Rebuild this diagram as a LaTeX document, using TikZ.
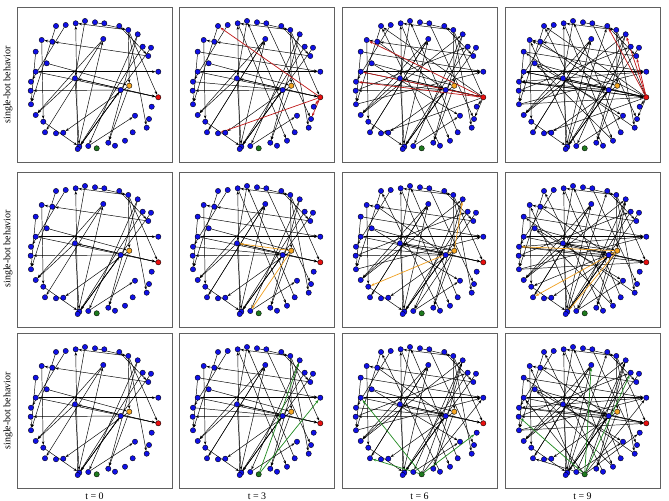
\documentclass[tikz,border=0pt]{standalone}
\usepackage{fontspec}
\setmainfont{Liberation Serif}
\usepackage{xcolor}
\usetikzlibrary{arrows.meta}
\definecolor{vxblue}{HTML}{1010E6}
\definecolor{botred}{HTML}{E81010}
\definecolor{botorange}{HTML}{F5A623}
\definecolor{botgreen}{HTML}{1E7A1E}
\definecolor{redline}{HTML}{C01818}
\definecolor{orangeline}{HTML}{F0A020}
\definecolor{greenline}{HTML}{208A20}
\definecolor{framegray}{HTML}{606060}
\pgfdeclarelayer{background}
\pgfdeclarelayer{edgelayer}
\pgfsetlayers{background,edgelayer,main}

% vertices of the graph, in pixels inside one panel
\newcommand\graphnodes{%
  \foreach \i/\px/\py in {1/58.7/16.3, 2/68/14, 3/78/15.3, 4/87.3/16.3, 5/48.7/18,
      6/39/19, 7/102.3/19, 8/111.3/23, 9/120.7/27.3, 10/24.7/33, 11/35.3/34.7,
      12/86.3/32, 13/125.7/39.7, 14/134/40.7, 15/18.7/44.7, 16/131.3/49,
      17/29.7/56.3, 18/18.7/64.7, 19/141.3/64.7, 20/58/71.3, 21/14/74.7,
      23/13.7/83.7, 24/103.7/83, 26/14/97.3, 27/134.7/99.7, 28/18.7/108,
      29/118/108.7, 30/26.3/114.7, 31/132/112, 32/129.7/120.7, 33/28/125.3,
      34/46.3/125.7, 35/39/126.3, 36/115.7/125.3, 37/91.3/135.7, 38/108/133.7,
      39/98/138.7, 40/62.3/139.7, 41/60.7/142, 42/71.3/139}
    \node[vtx] (\i) at (\px,\py) {};
  \node[vtx, fill=botorange] (22) at (112.3,78.7) {};
  \node[vtx, fill=botred] (25) at (141.3,90.3) {};
  \node[vtx, fill=botgreen] (43) at (79.7,141.3) {};
}

% black edges, growing with t
\newcommand\drawedges[1]{\foreach \a/\b in {#1} \draw[edge] (\a) -- (\b);}
\newcommand\graphedges[1]{%
  \drawedges{41/1, 20/40, 8/1, 12/28, 6/26, 5/21, 10/30, 15/26, 16/11, 8/22,
    8/32, 8/25, 9/37, 9/42, 13/41, 14/40, 20/25, 25/20, 18/19, 18/25, 24/23,
    17/22, 22/34, 22/37, 24/40, 30/40, 12/33, 42/29, 41/12, 11/10, 20/28,
    3/8, 7/16, 2/20, 40/24}%
  \ifnum#1>1 \drawedges{4/31, 1/38, 15/19, 33/12, 21/24, 36/2}\fi
  \ifnum#1>2 \drawedges{23/13, 28/9, 39/6, 17/29, 26/19, 11/24}\fi
  \ifnum#1>3 \drawedges{19/21, 32/15, 40/7, 21/25, 38/17, 26/25, 42/10}\fi
}

% edges of the bot: newest ones coloured, older ones black
\newcommand\drawbot[2]{\foreach \b in #2 {\draw[#1] (\botsrc) -- (\b);}}
\newcommand\botedges[2]{%
  \ifcase#1\or
    \def\botsrc{25}\def\botA{6,35,27,31}\def\botB{10,18,21}\def\botC{7,9,16}%
    \tikzset{botcol/.style={edge, draw=redline, line width=0.6pt}}%
  \or
    \def\botsrc{22}\def\botA{20,42}\def\botB{30,9}\def\botC{21,33,41}%
    \tikzset{botcol/.style={edge, draw=orangeline, line width=0.6pt}}%
  \or
    \def\botsrc{43}\def\botA{9,19}\def\botB{27,18,33}\def\botC{12,13,23}%
    \tikzset{botcol/.style={edge, draw=greenline, line width=0.6pt}}%
  \fi
  \ifcase#2\or\or
    \drawbot{botcol}{\botA}%
  \or
    \drawbot{edge}{\botA}\drawbot{botcol}{\botB}%
  \or
    \drawbot{edge}{\botA}\drawbot{edge}{\botB}\drawbot{botcol}{\botC}%
  \fi
}

\begin{document}
\begin{tikzpicture}[
    x=0.03cm, y=-0.03cm,
    vtx/.style={circle, draw=black, line width=0.3pt, fill=vxblue, minimum size=0.16cm, inner sep=0pt},
    edge/.style={-{Stealth[length=3pt, width=2.2pt]}, line width=0.4pt, draw=black},
    frame/.style={draw=framegray, line width=0.8pt},
    rowlabel/.style={rotate=90, font=\fontsize{8.5}{10}\selectfont},
    timelabel/.style={font=\fontsize{8.5}{10}\selectfont},
]

\begin{pgfonlayer}{background}
\fill[white] (0,0) rectangle (669,500);
\end{pgfonlayer}
\useasboundingbox (0,0) rectangle (669,500);

% panels: columns are time steps, rows are bots
\foreach \col/\cx in {1/17, 2/179, 3/342, 4/505} {
  \foreach \row/\ry in {1/7, 2/172, 3/333} {
    \begin{scope}[shift={(\cx,\ry)}, name prefix=p\row\col-]
      \draw[frame] (0,0) rectangle (155,155);
      \graphnodes
      \begin{pgfonlayer}{edgelayer}
        \graphedges{\col}
        \botedges{\row}{\col}
      \end{pgfonlayer}
    \end{scope}
  }
}

% row labels
\node[rowlabel] (rowlab1) at (8,85) {single-bot behavior};
\node[rowlabel] (rowlab2) at (8,249) {single-bot behavior};
\node[rowlabel] (rowlab3) at (8,411) {single-bot behavior};

% time labels
\node[timelabel] (tlab0) at (94.5,496) {t = 0};
\node[timelabel] (tlab3) at (257,496) {t = 3};
\node[timelabel] (tlab6) at (419.5,496) {t = 6};
\node[timelabel] (tlab9) at (582.5,496) {t = 9};

\end{tikzpicture}
\end{document}
